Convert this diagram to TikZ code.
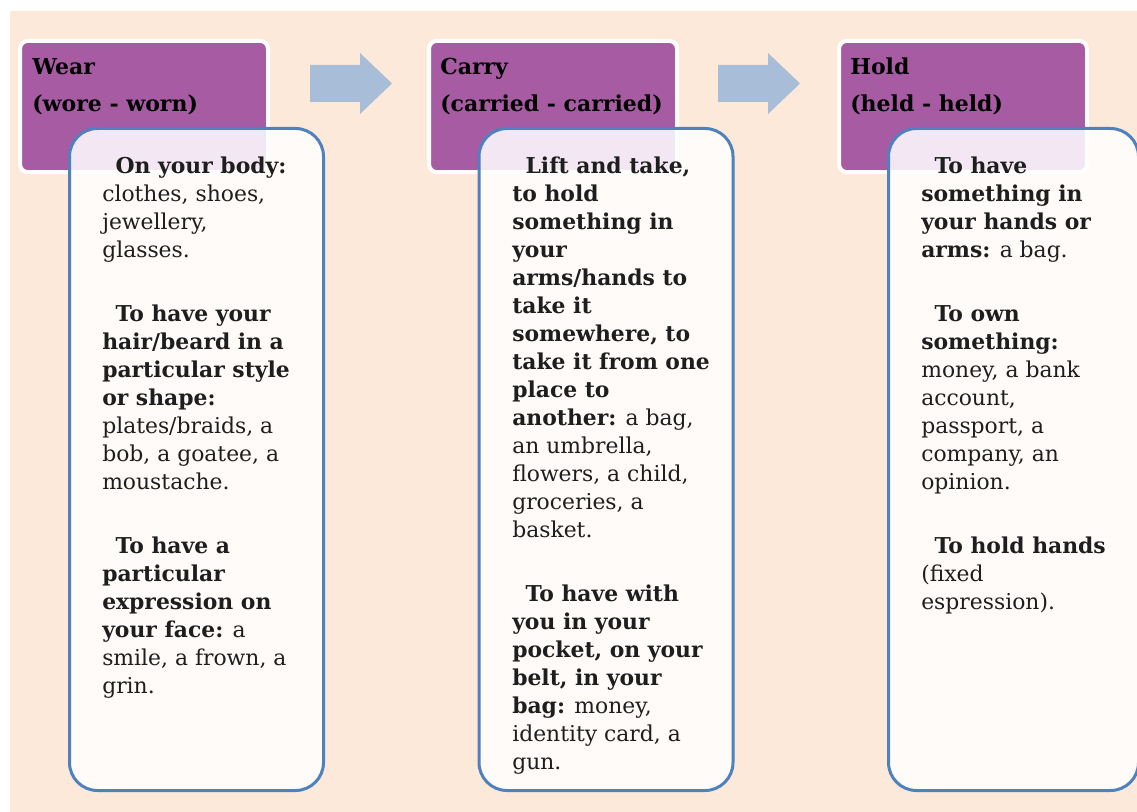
\documentclass[tikz,border=0pt]{standalone}
\usepackage{fontspec}
\setmainfont{DejaVu Serif}
\usepackage{tikz}
\usetikzlibrary{positioning}

\definecolor{peach}{RGB}{253,233,218}
\definecolor{verbpurple}{RGB}{167,91,163}
\definecolor{boxblue}{RGB}{79,129,189}
\definecolor{arrowblue}{RGB}{167,189,216}
\definecolor{bodyink}{RGB}{30,30,30}

\tikzset{
  headbox/.style={rectangle, rounded corners=6pt, fill=verbpurple, draw=white, line width=3pt, minimum width=186pt, minimum height=98.5pt, inner sep=0pt},
  bodybox/.style={rectangle, rounded corners=21pt, fill=white, fill opacity=0.86, draw=boxblue, draw opacity=1, line width=2.25pt, minimum width=190.5pt, minimum height=496.5pt, inner sep=0pt},
  headtext/.style={anchor=base west, align=left, inner sep=0pt, font=\fontsize{16.5}{27.75}\selectfont\bfseries},
  bodytext/.style={anchor=base west, align=left, inner sep=0pt, text=bodyink, font=\fontsize{16.4}{21}\selectfont},
  blockarrow/.style={fill=arrowblue}
}

\begin{document}
\begin{tikzpicture}[x=0.75pt, y=-0.75pt]
\useasboundingbox (0,0) rectangle (1137,812);
\fill[peach] (10,11) rectangle (1137,812);

% verb boxes
\node[headbox] (wear) at (144,106.5) {};
\node[headbox] (carry) at (553,106.5) {};
\node[headbox] (hold) at (963,106.5) {};

% arrows between the verbs
\fill[blockarrow] (310,65) -- (360,65) -- (360,53) -- (392,83.5) -- (360,114) -- (360,102) -- (310,102) -- cycle;
\fill[blockarrow] (718,65) -- (768,65) -- (768,53) -- (800,83.5) -- (768,114) -- (768,102) -- (718,102) -- cycle;

% titles (anchored on their last line)
\node[headtext] (weartitle) at (32,112) {Wear\\(wore - worn)};
\node[headtext] (carrytitle) at (440,112) {Carry\\(carried - carried)};
\node[headtext] (holdtitle) at (850,112) {Hold\\(held - held)};

% meaning boxes
\node[bodybox] (wearbox) at (196.5,459.5) {};
\node[bodybox] (carrybox) at (606,459.5) {};
\node[bodybox, minimum width=187.5pt] (holdbox) at (1013.5,459.5) {};

\node[bodytext] (weartext) at (102,693) {%
\hspace*{10pt}\textbf{On your body:}\\
clothes, shoes,\\
jewellery,\\
glasses.\\[27pt]
\hspace*{10pt}\textbf{To have your}\\
\textbf{hair/beard in a}\\
\textbf{particular style}\\
\textbf{or shape:}\\
plates/braids, a\\
bob, a goatee, a\\
moustache.\\[27pt]
\hspace*{10pt}\textbf{To have a}\\
\textbf{particular}\\
\textbf{expression on}\\
\textbf{your face:} a\\
smile, a frown, a\\
grin.};

\node[bodytext] (carrytext) at (512,769) {%
\hspace*{10pt}\textbf{Lift and take,}\\
\textbf{to hold}\\
\textbf{something in}\\
\textbf{your}\\
\textbf{arms/hands to}\\
\textbf{take it}\\
\textbf{somewhere, to}\\
\textbf{take it from one}\\
\textbf{place to}\\
\textbf{another:} a bag,\\
an umbrella,\\
flowers, a child,\\
groceries, a\\
basket.\\[27pt]
\hspace*{10pt}\textbf{To have with}\\
\textbf{you in your}\\
\textbf{pocket, on your}\\
\textbf{belt, in your}\\
\textbf{bag:} money,\\
identity card, a\\
gun.};

\node[bodytext] (holdtext) at (921,609) {%
\hspace*{10pt}\textbf{To have}\\
\textbf{something in}\\
\textbf{your hands or}\\
\textbf{arms:} a bag.\\[27pt]
\hspace*{10pt}\textbf{To own}\\
\textbf{something:}\\
money, a bank\\
account,\\
passport, a\\
company, an\\
opinion.\\[27pt]
\hspace*{10pt}\textbf{To hold hands}\\
(fixed\\
espression).};
\end{tikzpicture}
\end{document}
